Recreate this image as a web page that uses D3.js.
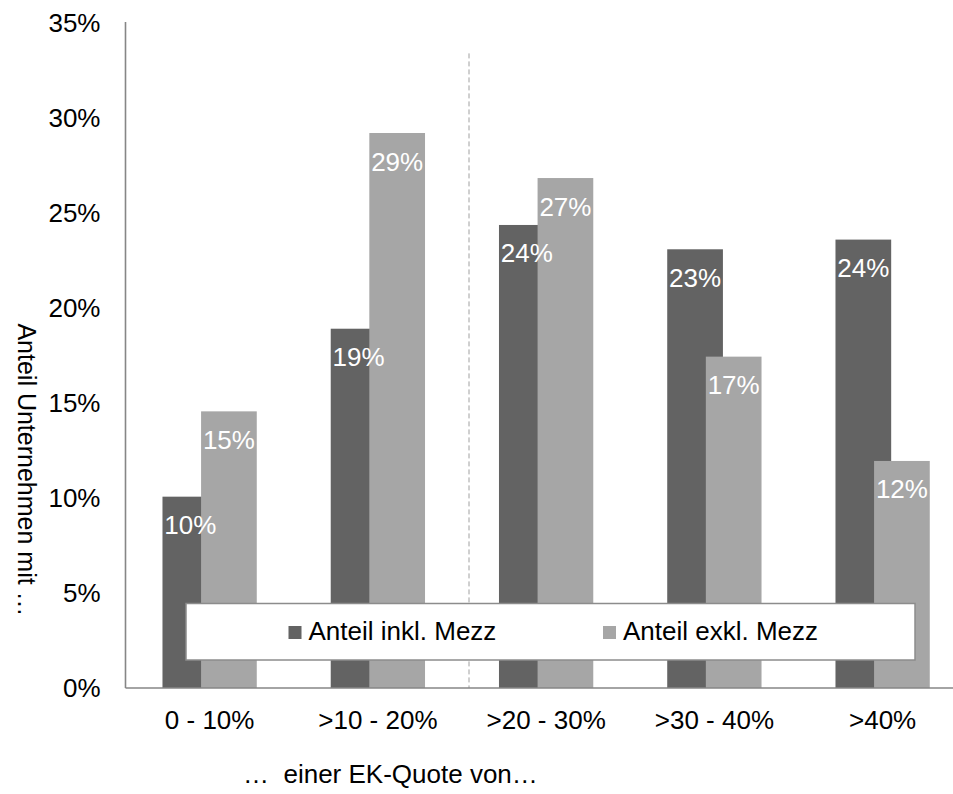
<!DOCTYPE html>
<html>
<head>
<meta charset="utf-8">
<script src="https://cdn.jsdelivr.net/npm/d3@7"></script>
<style>
  html, body { margin: 0; padding: 0; background: #fff; }
  svg { display: block; font-family: "Liberation Sans", Arial, sans-serif; }
</style>
</head>
<body>
<svg id="chart" width="953" height="794"></svg>
<script>
// Equity ratio classes (EK-Quote)
const categories = ["0 - 10%", ">10 - 20%", ">20 - 30%", ">30 - 40%", ">40%"];
// Share of companies, in percent
const seriesNames = ["Anteil inkl. Mezz", "Anteil exkl. Mezz"];
const inklMezz = [10.07, 18.91, 24.37, 23.09, 23.6];
const exklMezz = [14.56, 29.21, 26.84, 17.44, 11.95];
const yTicks = [0, 5, 10, 15, 20, 25, 30, 35];
const yTitle = "Anteil Unternehmen mit …";
const xTitle = "…  einer EK-Quote von…";

const colors = ["#636363", "#a6a6a6"];
const series = [inklMezz, exklMezz];

const svg = d3.select("#chart");
const plotLeft = 125.5, plotBottom = 688, plotTop = 23, plotRight = 966.75;

const x0 = d3.scaleBand().domain(categories).range([plotLeft, plotRight]).padding(0);
const y = d3.scaleLinear().domain([0, 35]).range([plotBottom, plotTop]);

// Bars of one group overlap: the second series sits partly over the first
const barW = 55.7, barStep = 38.6, groupW = barStep + barW;
const barX = (c, i) => x0(c) + x0.bandwidth() / 2 - groupW / 2 + i * barStep;

// Bars
series.forEach((vals, i) => {
  svg.append("g").selectAll("rect")
    .data(categories)
    .join("rect")
    .attr("x", c => barX(c, i))
    .attr("y", (c, k) => y(vals[k]))
    .attr("width", barW)
    .attr("height", (c, k) => y(0) - y(vals[k]))
    .attr("fill", colors[i]);
});

// Value labels inside the bar tops
series.forEach((vals, i) => {
  svg.append("g").selectAll("text")
    .data(categories)
    .join("text")
    .attr("x", c => barX(c, i) + barW / 2)
    .attr("y", (c, k) => y(vals[k]) + 37.5)
    .attr("text-anchor", "middle")
    .attr("font-size", 26)
    .attr("fill", "#ffffff")
    .text((c, k) => Math.round(vals[k]) + "%");
});

// Divider between the lower and upper equity classes
svg.append("line")
  .attr("x1", x0(categories[2]) + 7).attr("x2", x0(categories[2]) + 7)
  .attr("y1", y(33.4)).attr("y2", plotBottom)
  .attr("stroke", "#a0a0a0").attr("stroke-width", 1)
  .attr("stroke-dasharray", "5,3");

// Axis lines
svg.append("line")
  .attr("x1", plotLeft).attr("x2", plotLeft).attr("y1", plotTop - 1).attr("y2", plotBottom)
  .attr("stroke", "#868686").attr("stroke-width", 1.6);
svg.append("line")
  .attr("x1", plotLeft).attr("x2", 953).attr("y1", plotBottom).attr("y2", plotBottom)
  .attr("stroke", "#868686").attr("stroke-width", 1.6);

// Y tick labels
const yAxis = d3.axisLeft(y).tickValues(yTicks).tickSize(0).tickPadding(25)
  .tickFormat(d => d + "%");
const gy = svg.append("g").attr("transform", `translate(${plotLeft},0)`).call(yAxis);
gy.select(".domain").remove();
gy.selectAll("text").attr("font-size", 26).attr("fill", "#000")
  .attr("font-family", "Liberation Sans, Arial, sans-serif");

// X tick labels
const xAxis = d3.axisBottom(x0).tickSize(0).tickPadding(0);
const gx = svg.append("g").attr("transform", `translate(0,${plotBottom})`).call(xAxis);
gx.select(".domain").remove();
gx.selectAll("text").attr("font-size", 26).attr("fill", "#000")
  .attr("font-family", "Liberation Sans, Arial, sans-serif")
  .attr("dy", null).attr("y", 41);

// Axis titles
svg.append("text")
  .attr("transform", "translate(18,470) rotate(90)")
  .attr("text-anchor", "middle")
  .attr("font-size", 25)
  .attr("fill", "#000")
  .text(yTitle);

svg.append("text")
  .attr("x", 243).attr("y", 783)
  .attr("font-size", 26)
  .attr("fill", "#000")
  .style("white-space", "pre")
  .text(xTitle);

// Legend
const legend = svg.append("g");
legend.append("rect")
  .attr("x", 186).attr("y", 603.5).attr("width", 729).attr("height", 56.5)
  .attr("fill", "#fff").attr("stroke", "#8c8c8c").attr("stroke-width", 1.5);
const legendX = [288.5, 603];
seriesNames.forEach((name, i) => {
  legend.append("rect")
    .attr("x", legendX[i]).attr("y", 626).attr("width", 13).attr("height", 13)
    .attr("fill", colors[i]);
  legend.append("text")
    .attr("x", legendX[i] + 20).attr("y", 639.5)
    .attr("font-size", 26).attr("fill", "#000")
    .text(name);
});
</script>
</body>
</html>
